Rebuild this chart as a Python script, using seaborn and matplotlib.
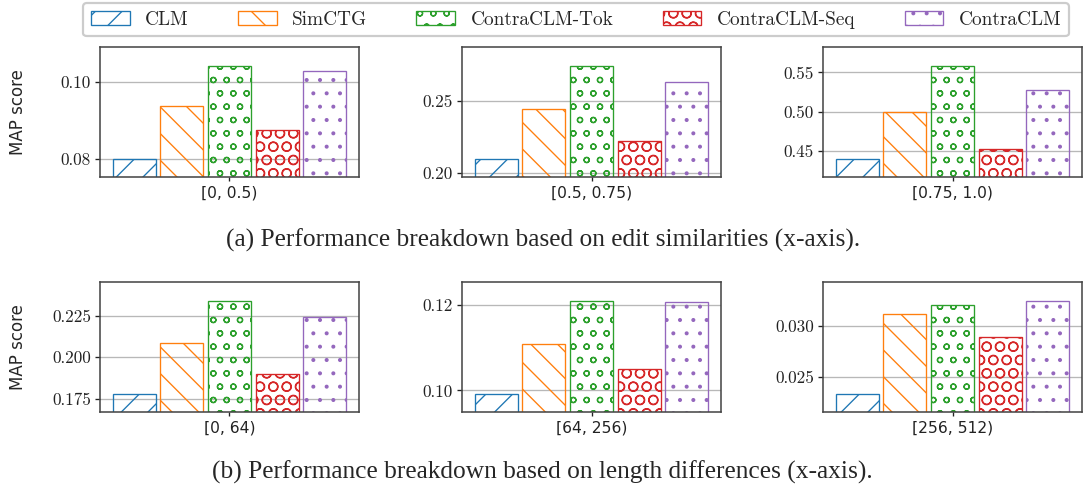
import matplotlib
matplotlib.use('Agg')
import matplotlib.pyplot as plt
import matplotlib.patches as mpatches
from matplotlib.ticker import MultipleLocator, FormatStrFormatter
import seaborn as sns
import pandas as pd

models = ['CLM', 'SimCTG', 'ContraCLM-Tok', 'ContraCLM-Seq', 'ContraCLM']
colors = ['#1f77b4', '#ff7f0e', '#2ca02c', '#d62728', '#9467bd']
hatches = ['//', '\\\\', 'oo', 'OO', '..']

# top row: buckets of edit similarity
sim_buckets = ['[0, 0.5)', '[0.5, 0.75)', '[0.75, 1.0)']
sim_scores = [
    [0.0800, 0.0939, 0.1043, 0.0876, 0.1029],
    [0.2094, 0.2448, 0.2749, 0.2225, 0.2634],
    [0.4394, 0.5000, 0.5586, 0.4526, 0.5282],
]
# bottom row: buckets of length difference
len_buckets = ['[0, 64)', '[64, 256)', '[256, 512)']
len_scores = [
    [0.1776, 0.2087, 0.2341, 0.1896, 0.2244],
    [0.0991, 0.1108, 0.1209, 0.1050, 0.1205],
    [0.0233, 0.0312, 0.0321, 0.0289, 0.0325],
]
tick_steps = [[0.02, 0.05, 0.05], [0.025, 0.02, 0.005]]
tick_fmts = [['%.2f', '%.2f', '%.2f'], ['%.3f', '%.2f', '%.3f']]
captions = ['(a) Performance breakdown based on edit similarities (x-axis).',
            '(b) Performance breakdown based on length differences (x-axis).']

sns.set_style('ticks')
plt.rcParams['font.family'] = ['DejaVu Sans']
plt.rcParams['hatch.linewidth'] = 0.6

W, H = 1083, 488
fig = plt.figure(figsize=(W / 160, H / 160), dpi=160)

lefts = [100, 462, 823]
tops = [47, 282]
aw, ah = 259, 130

rows = [(sim_buckets, sim_scores), (len_buckets, len_scores)]
for r, (buckets, scores) in enumerate(rows):
    for c in range(3):
        ax = fig.add_axes([lefts[c] / W, 1 - (tops[r] + ah) / H, aw / W, ah / H])
        vals = scores[c]
        df = pd.DataFrame({'bucket': [buckets[c]] * len(models),
                           'model': models, 'score': vals})
        sns.barplot(data=df, x='bucket', y='score', hue='model',
                    hue_order=models, palette=colors, fill=False, gap=0.1,
                    width=0.8, linewidth=0.6, errorbar=None, legend=False, ax=ax)
        for cont, h in zip(ax.containers, hatches):
            for bar in cont:
                bar.set_hatch(h)

        lo, hi = min(vals), max(vals)
        rng = hi - lo
        ax.set_ylim(lo - 0.19 * rng, hi + 0.2 * rng)
        ax.set_xlim(-0.435, 0.435)
        ax.yaxis.set_major_locator(MultipleLocator(tick_steps[r][c]))
        ax.yaxis.set_major_formatter(FormatStrFormatter(tick_fmts[r][c]))
        ax.yaxis.grid(True, color='#b8b8b8', lw=0.6)
        ax.set_axisbelow(True)
        ax.set_xlabel('')
        if c == 0:
            ax.set_ylabel('MAP score', fontsize=7.5)
            ax.yaxis.set_label_coords(-0.28, 0.5)
        else:
            ax.set_ylabel('')
        for sp in ax.spines.values():
            sp.set_color('#444444')
            sp.set_linewidth(0.7)
        ax.tick_params(axis='y', length=2.3, width=0.6, pad=1.8, colors='#222222',
                       labelsize=7.7)
        ax.tick_params(axis='x', length=2, width=0.6, pad=2, colors='#222222',
                       labelsize=7)
        plt.setp(ax.get_yticklabels(), fontfamily='cmr10')

handles = [mpatches.Patch(facecolor='none', edgecolor=col, hatch=h, lw=0.6)
           for col, h in zip(colors, hatches)]
fig.legend(handles, models, ncol=5, loc='upper center',
           bbox_to_anchor=(0.532, 0.994), prop={'family': 'cmr10', 'size': 8.7},
           frameon=True, fancybox=True, edgecolor='#cccccc', framealpha=1,
           borderaxespad=0, columnspacing=2.55)

fig.text(0.501, 1 - 240 / H, captions[0], ha='center', va='center',
         family='Liberation Serif', size=11.4)
fig.text(0.501, 1 - 472 / H, captions[1], ha='center', va='center',
         family='Liberation Serif', size=11.4)

fig.savefig('out.png', dpi=160)
